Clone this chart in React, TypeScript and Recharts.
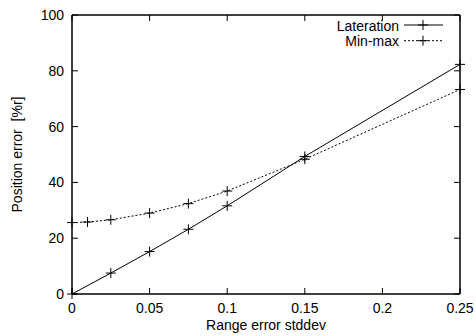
import { LineChart, Line, XAxis, YAxis, Legend, ReferenceArea } from "recharts";

// values
const laterationX = [0, 0.025, 0.05, 0.075, 0.1, 0.15, 0.25];
const laterationY = [0, 7.5, 15.2, 23.2, 31.6, 49.3, 82.3];
const minmaxX = [0, 0.01, 0.025, 0.05, 0.075, 0.1, 0.15, 0.25];
const minmaxY = [25.6, 25.8, 26.6, 29.0, 32.4, 36.9, 48.3, 73.3];
const xTicks = [0, 0.05, 0.1, 0.15, 0.2, 0.25];
const yTicks = [0, 20, 40, 60, 80, 100];

// one table over the union of x values
const data = minmaxX.map((x, i) => {
  const j = laterationX.indexOf(x);
  return { x, lat: j >= 0 ? laterationY[j] : null, mm: minmaxY[i] };
});

const FONT = "'Liberation Sans', Arial, Helvetica, sans-serif";
const TICK = 6;

const Plus = (props: any) => {
  const { cx, cy, index } = props;
  if (cx == null || cy == null || props.value == null) return <g key={`n-${index}`} />;
  return (
    <path
      key={`p-${index}`}
      d={`M${cx - 5},${cy}h10M${cx},${cy - 5}v10`}
      stroke="#000"
      strokeWidth={1}
      fill="none"
    />
  );
};

// inward ticks drawn as thin filled rects
const leftTick = (p: any) => (
  <g>
    <rect x={p.x + 8} y={p.y - 0.5} width={TICK} height={1} fill="#000" />
    <text x={p.x} y={p.y + 5} textAnchor="end" fontSize={14} fontFamily={FONT} fill="#000">
      {p.payload.value}
    </text>
  </g>
);

const bottomTick = (p: any) => (
  <g>
    <rect x={p.x - 0.5} y={p.y - 6 - TICK} width={1} height={TICK} fill="#000" />
    <text x={p.x} y={p.y + 12.5} textAnchor="middle" fontSize={14} fontFamily={FONT} fill="#000">
      {p.payload.value}
    </text>
  </g>
);

const rightTick = (p: any) => (
  <rect x={p.x - TICK} y={p.y - 0.5} width={TICK} height={1} fill="#000" />
);

const topTick = (p: any) => (
  <rect x={p.x - 0.5} y={p.y} width={1} height={TICK} fill="#000" />
);

const KeyBox = ({ payload }: any) => (
  <svg width={160} height={40} style={{ display: "block" }}>
    {(payload || []).map((p: any, i: number) => {
      const cy = 11 + i * 15.7;
      return (
        <g key={p.value}>
          <text x={99} y={cy + 5.5} textAnchor="end" fontSize={14} fontFamily={FONT} fill="#000">
            {p.value}
          </text>
          <line
            x1={104}
            x2={143}
            y1={cy}
            y2={cy}
            stroke="#000"
            strokeDasharray={i === 1 ? "2 2" : undefined}
          />
          <path d={`M118,${cy}h10M123,${cy - 5}v10`} stroke="#000" />
        </g>
      );
    })}
  </svg>
);

export default function App() {
  return (
    <div style={{ position: "absolute", left: 0, top: 0, width: 476, height: 336, background: "#fff" }}>
      <LineChart width={476} height={336} data={data} margin={{ top: 14, right: 15, bottom: 0, left: 0 }}>
        <XAxis
          dataKey="x"
          type="number"
          domain={[0, 0.25]}
          ticks={xTicks}
          height={42}
          tickSize={0}
          tickMargin={6}
          tickLine={false}
          stroke="#000"
          tick={bottomTick}
          interval={0}
          label={{ value: "Range error stddev", position: "insideBottom", offset: 6, fontSize: 14, fontFamily: FONT, fill: "#000" }}
        />
        <XAxis
          xAxisId="top"
          dataKey="x"
          orientation="top"
          type="number"
          domain={[0, 0.25]}
          ticks={xTicks}
          height={1}
          tickSize={0}
          tickMargin={0}
          tickLine={false}
          stroke="#000"
          tick={topTick}
          interval={0}
        />
        <YAxis
          type="number"
          domain={[0, 100]}
          ticks={yTicks}
          width={72}
          tickSize={0}
          tickMargin={8}
          tickLine={false}
          stroke="#000"
          tick={leftTick}
          interval={0}
          label={{
            value: "Position error\u00a0 [%r]",
            angle: -90,
            position: "insideLeft",
            offset: 17,
            fontSize: 14,
            fontFamily: FONT,
            fill: "#000",
            style: { textAnchor: "middle" },
          }}
        />
        <YAxis
          yAxisId="right"
          orientation="right"
          type="number"
          domain={[0, 100]}
          ticks={yTicks}
          width={1}
          tickSize={0}
          tickMargin={0}
          tickLine={false}
          stroke="#000"
          tick={rightTick}
          interval={0}
        />
        {/* plot frame */}
        <ReferenceArea
          x1={0}
          x2={0.25}
          y1={0}
          y2={100}
          fill="none"
          fillOpacity={0}
          stroke="#000"
          strokeWidth={1}
          ifOverflow="visible"
        />
        <Legend
          layout="horizontal"
          verticalAlign="middle"
          align="center"
          content={<KeyBox />}
          wrapperStyle={{ top: 14, left: 300, width: 160, height: 40 }}
        />
        <Line
          dataKey="lat"
          name="Lateration"
          type="linear"
          stroke="#000"
          strokeWidth={1}
          connectNulls
          dot={Plus}
          activeDot={false}
          isAnimationActive={false}
        />
        <Line
          xAxisId="top"
          yAxisId="right"
          dataKey="mm"
          name="Min-max"
          type="linear"
          stroke="#000"
          strokeWidth={1}
          strokeDasharray="2 2"
          connectNulls
          dot={Plus}
          activeDot={false}
          isAnimationActive={false}
        />
      </LineChart>
    </div>
  );
}
